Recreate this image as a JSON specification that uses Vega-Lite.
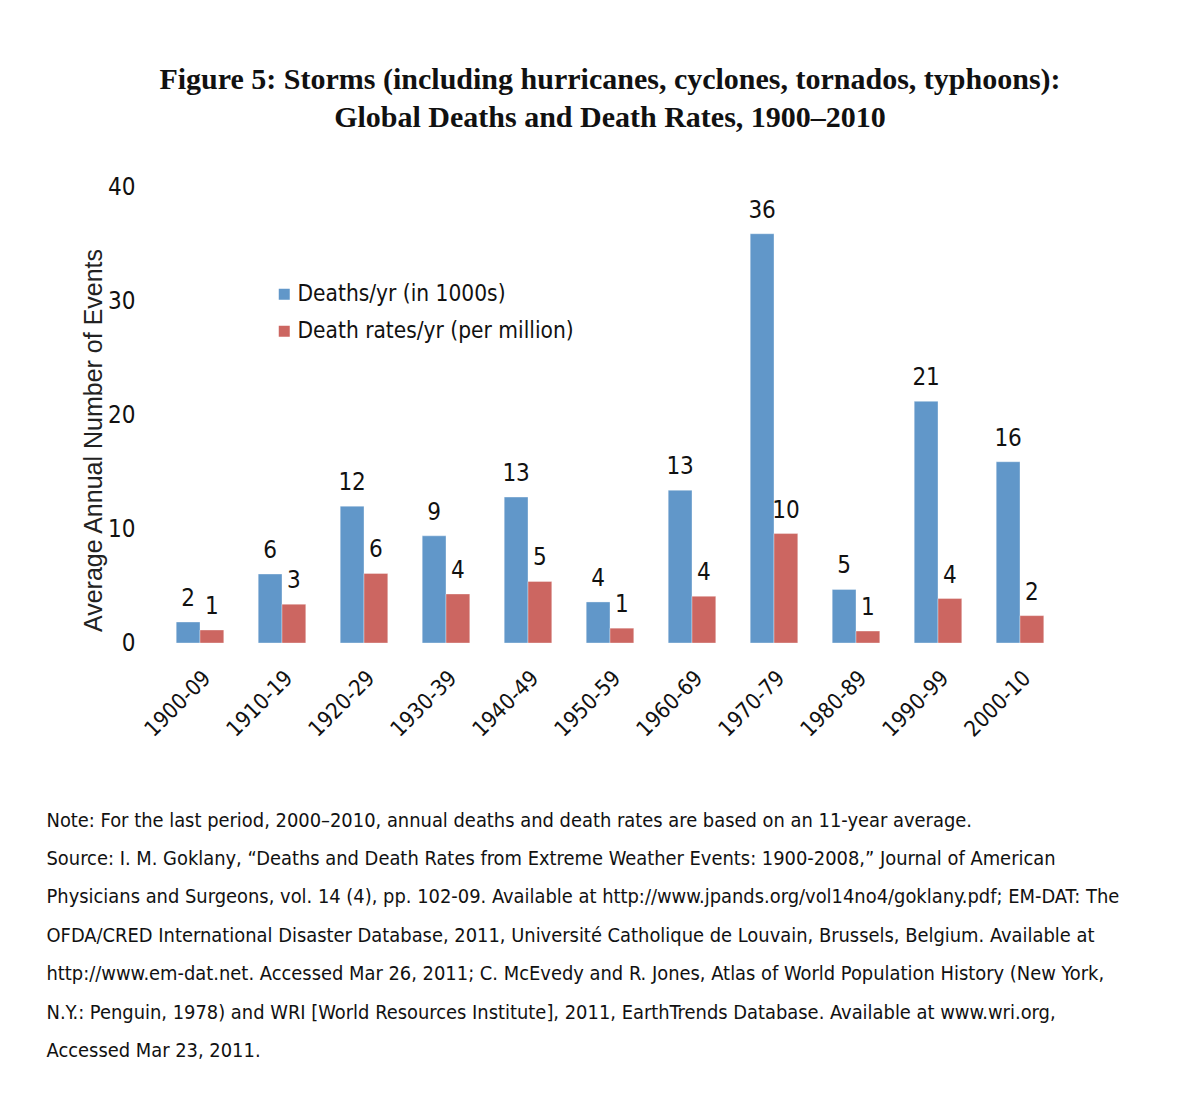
{
  "$schema": "https://vega.github.io/schema/vega-lite/v6.json",
  "autosize": {"type": "none"},
  "padding": {"left": 159, "top": 187, "right": 134, "bottom": 461},
  "width": 902,
  "height": 456,
  "background": "white",
  "config": {"view": {"stroke": null}},
  "title": {
    "text": ["Figure 5: Storms (including hurricanes, cyclones, tornados, typhoons):", "Global Deaths and Death Rates, 1900–2010"],
    "font": "Liberation Serif",
    "fontSize": 30,
    "fontWeight": "bold",
    "color": "#111111",
    "anchor": "middle",
    "frame": "group",
    "lineHeight": 38,
    "offset": 42
  },
  "data": {
    "values": [
      {"period": "1900-09", "series": "Deaths/yr (in 1000s)", "value": 1.84},
      {"period": "1900-09", "series": "Death rates/yr (per million)", "value": 1.14},
      {"period": "1910-19", "series": "Deaths/yr (in 1000s)", "value": 6.05},
      {"period": "1910-19", "series": "Death rates/yr (per million)", "value": 3.4},
      {"period": "1920-29", "series": "Deaths/yr (in 1000s)", "value": 12.0},
      {"period": "1920-29", "series": "Death rates/yr (per million)", "value": 6.1},
      {"period": "1930-39", "series": "Deaths/yr (in 1000s)", "value": 9.4},
      {"period": "1930-39", "series": "Death rates/yr (per million)", "value": 4.3},
      {"period": "1940-49", "series": "Deaths/yr (in 1000s)", "value": 12.8},
      {"period": "1940-49", "series": "Death rates/yr (per million)", "value": 5.4},
      {"period": "1950-59", "series": "Deaths/yr (in 1000s)", "value": 3.6},
      {"period": "1950-59", "series": "Death rates/yr (per million)", "value": 1.3},
      {"period": "1960-69", "series": "Deaths/yr (in 1000s)", "value": 13.4},
      {"period": "1960-69", "series": "Death rates/yr (per million)", "value": 4.1},
      {"period": "1970-79", "series": "Deaths/yr (in 1000s)", "value": 35.9},
      {"period": "1970-79", "series": "Death rates/yr (per million)", "value": 9.6},
      {"period": "1980-89", "series": "Deaths/yr (in 1000s)", "value": 4.7},
      {"period": "1980-89", "series": "Death rates/yr (per million)", "value": 1.05},
      {"period": "1990-99", "series": "Deaths/yr (in 1000s)", "value": 21.2},
      {"period": "1990-99", "series": "Death rates/yr (per million)", "value": 3.9},
      {"period": "2000-10", "series": "Deaths/yr (in 1000s)", "value": 15.9},
      {"period": "2000-10", "series": "Death rates/yr (per million)", "value": 2.4}
    ]
  },
  "encoding": {
    "x": {
      "field": "period",
      "type": "nominal",
      "sort": null,
      "scale": {"paddingInner": 0.42, "paddingOuter": 0.21},
      "axis": {
        "domain": false,
        "ticks": false,
        "labelAngle": -45,
        "labelFont": "DejaVu Sans Condensed",
        "labelFontSize": 22,
        "labelColor": "#111111",
        "labelPadding": 24,
        "title": [
          "Note: For the last period, 2000–2010, annual deaths and death rates are based on an 11-year average.",
          "Source: I. M. Goklany, “Deaths and Death Rates from Extreme Weather Events: 1900-2008,” Journal of American",
          "Physicians and Surgeons, vol. 14 (4), pp. 102-09. Available at http://www.jpands.org/vol14no4/goklany.pdf; EM-DAT: The",
          "OFDA/CRED International Disaster Database, 2011, Université Catholique de Louvain, Brussels, Belgium. Available at",
          "http://www.em-dat.net. Accessed Mar 26, 2011; C. McEvedy  and R. Jones, Atlas of World Population History (New York,",
          "N.Y.: Penguin, 1978) and WRI [World Resources Institute], 2011, EarthTrends Database. Available at www.wri.org,",
          "Accessed Mar 23, 2011."
        ],
        "titleFont": "DejaVu Sans Condensed",
        "titleFontSize": 19.9,
        "titleFontWeight": "normal",
        "titleColor": "#111111",
        "titleAnchor": "start",
        "titleAlign": "left",
        "titleBaseline": "top",
        "titleX": -113,
        "titleY": 167,
        "titleLineHeight": 38.4
      }
    },
    "xOffset": {"field": "series", "type": "nominal", "sort": ["Deaths/yr (in 1000s)", "Death rates/yr (per million)"]},
    "y": {
      "field": "value",
      "type": "quantitative",
      "scale": {"domain": [0, 40]},
      "axis": {
        "values": [0, 10, 20, 30, 40],
        "domain": false,
        "ticks": false,
        "grid": false,
        "labelFont": "DejaVu Sans Condensed",
        "labelFontSize": 24,
        "labelColor": "#111111",
        "labelPadding": 24,
        "title": "Average Annual Number of Events",
        "titleFont": "Liberation Sans",
        "titleFontSize": 25,
        "titleFontWeight": "normal",
        "titleColor": "#222222",
        "titleX": -66,
        "titleY": 253,
        "titleBaseline": "middle"
      }
    }
  },
  "layer": [
    {
      "mark": {"type": "bar", "stroke": "#ffffff", "strokeOpacity": 0.35, "strokeWidth": 1},
      "encoding": {
        "color": {
          "field": "series",
          "type": "nominal",
          "scale": {"domain": ["Deaths/yr (in 1000s)", "Death rates/yr (per million)"], "range": ["#6197C9", "#CC6661"]},
          "legend": {
            "orient": "none",
            "legendX": 114,
            "legendY": 96,
            "title": null,
            "symbolType": "square",
            "symbolSize": 121,
            "symbolStrokeWidth": 0,
            "labelFont": "DejaVu Sans Condensed",
            "labelFontSize": 22.5,
            "labelColor": "#111111",
            "labelOffset": 2,
            "rowPadding": 14,
            "labelLimit": 400
          }
        }
      }
    },
    {
      "mark": {"type": "text", "baseline": "alphabetic", "dy": -16, "font": "DejaVu Sans Condensed", "fontSize": 24, "color": "#111111"},
      "encoding": {"text": {"field": "value", "type": "quantitative", "format": ".0f"}}
    }
  ]
}
